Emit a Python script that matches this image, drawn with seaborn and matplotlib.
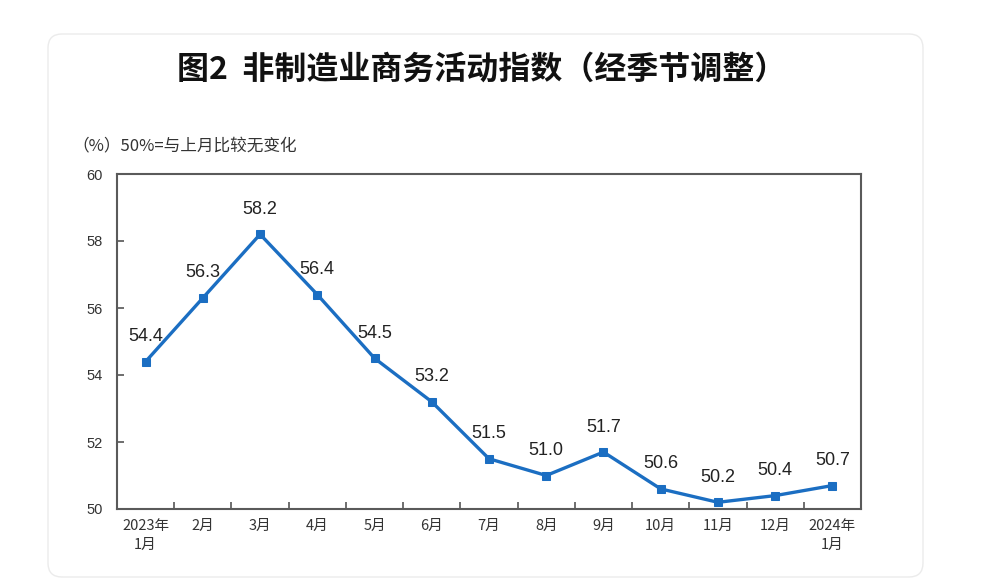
import matplotlib
matplotlib.use("Agg")
import matplotlib.pyplot as plt
import seaborn as sns
import pandas as pd
import numpy as np
from matplotlib.patches import FancyBboxPatch
from matplotlib.transforms import IdentityTransform
from matplotlib.ticker import FixedLocator

months = ["2023年\n1月", "2月", "3月", "4月", "5月", "6月", "7月", "8月",
          "9月", "10月", "11月", "12月", "2024年\n1月"]
values = [54.4, 56.3, 58.2, 56.4, 54.5, 53.2, 51.5, 51.0, 51.7, 50.6, 50.2, 50.4, 50.7]
y_ticks = [50, 52, 54, 56, 58, 60]
title = "图2  非制造业商务活动指数（经季节调整）"
unit_note = "（%）50%=与上月比较无变化"

sns.set_theme(style="white")
plt.rcParams['font.family'] = ['Noto Sans CJK SC', 'DejaVu Sans']

df = pd.DataFrame({"month": months, "value": values})

fig = plt.figure(figsize=(9.86, 5.88), dpi=100)
fig.patch.set_facecolor("white")

card = FancyBboxPatch((48, 588 - 577), 875, 543,
                      boxstyle="round,pad=0,rounding_size=14",
                      transform=IdentityTransform(),
                      facecolor="white", edgecolor="#ebebeb", linewidth=1.0, zorder=0)
fig.add_artist(card)

ax = fig.add_axes([117 / 986, 1 - 509 / 588, (861 - 117) / 986, (509 - 174) / 588])
ax.set_facecolor("white")

line_color = "#1b6ec2"
sns.lineplot(data=df, x="month", y="value", ax=ax, color=line_color,
             linewidth=2.4, marker="s", markersize=6,
             markeredgecolor=line_color, markerfacecolor=line_color, sort=False)

for i, v in enumerate(values):
    ax.annotate(f"{v:.1f}", (i, v), xytext=(0, 18), textcoords="offset points",
                ha="center", va="center", fontsize=13, color="#222222",
                family=["Liberation Sans", "DejaVu Sans"])

ax.set_xlim(-0.5, len(months) - 0.5)
ax.set_ylim(50, 60)
ax.set_yticks(y_ticks)
ax.set_yticklabels([str(t) for t in y_ticks], fontsize=10.5, color="#333333",
                   family=["Liberation Sans", "DejaVu Sans"])
ax.set_xticks(range(len(months)))
ax.set_xticklabels(months, fontsize=10.5, color="#333333", linespacing=1.5)
ax.xaxis.set_minor_locator(FixedLocator(np.arange(0.5, len(months) - 1, 1.0)))
ax.tick_params(axis="x", which="major", length=0, pad=7)
ax.tick_params(axis="x", which="minor", direction="in", length=5, width=1.2,
               color="#555555", bottom=True)
ax.tick_params(axis="y", which="major", direction="in", length=5, width=1.2,
               color="#555555", left=True, pad=10)
ax.set_xlabel("")
ax.set_ylabel("")
for s in ax.spines.values():
    s.set_color("#5a5a5a")
    s.set_linewidth(1.5)
ax.grid(False)

fig.text(482 / 986, 1 - 70 / 588, title, ha="center", va="center",
         fontsize=23, fontweight="bold", color="#111111")
fig.text(72 / 986, 1 - 147 / 588, unit_note, ha="left", va="center",
         fontsize=12, color="#333333")

fig.savefig("out.png", dpi=100, facecolor="white")
